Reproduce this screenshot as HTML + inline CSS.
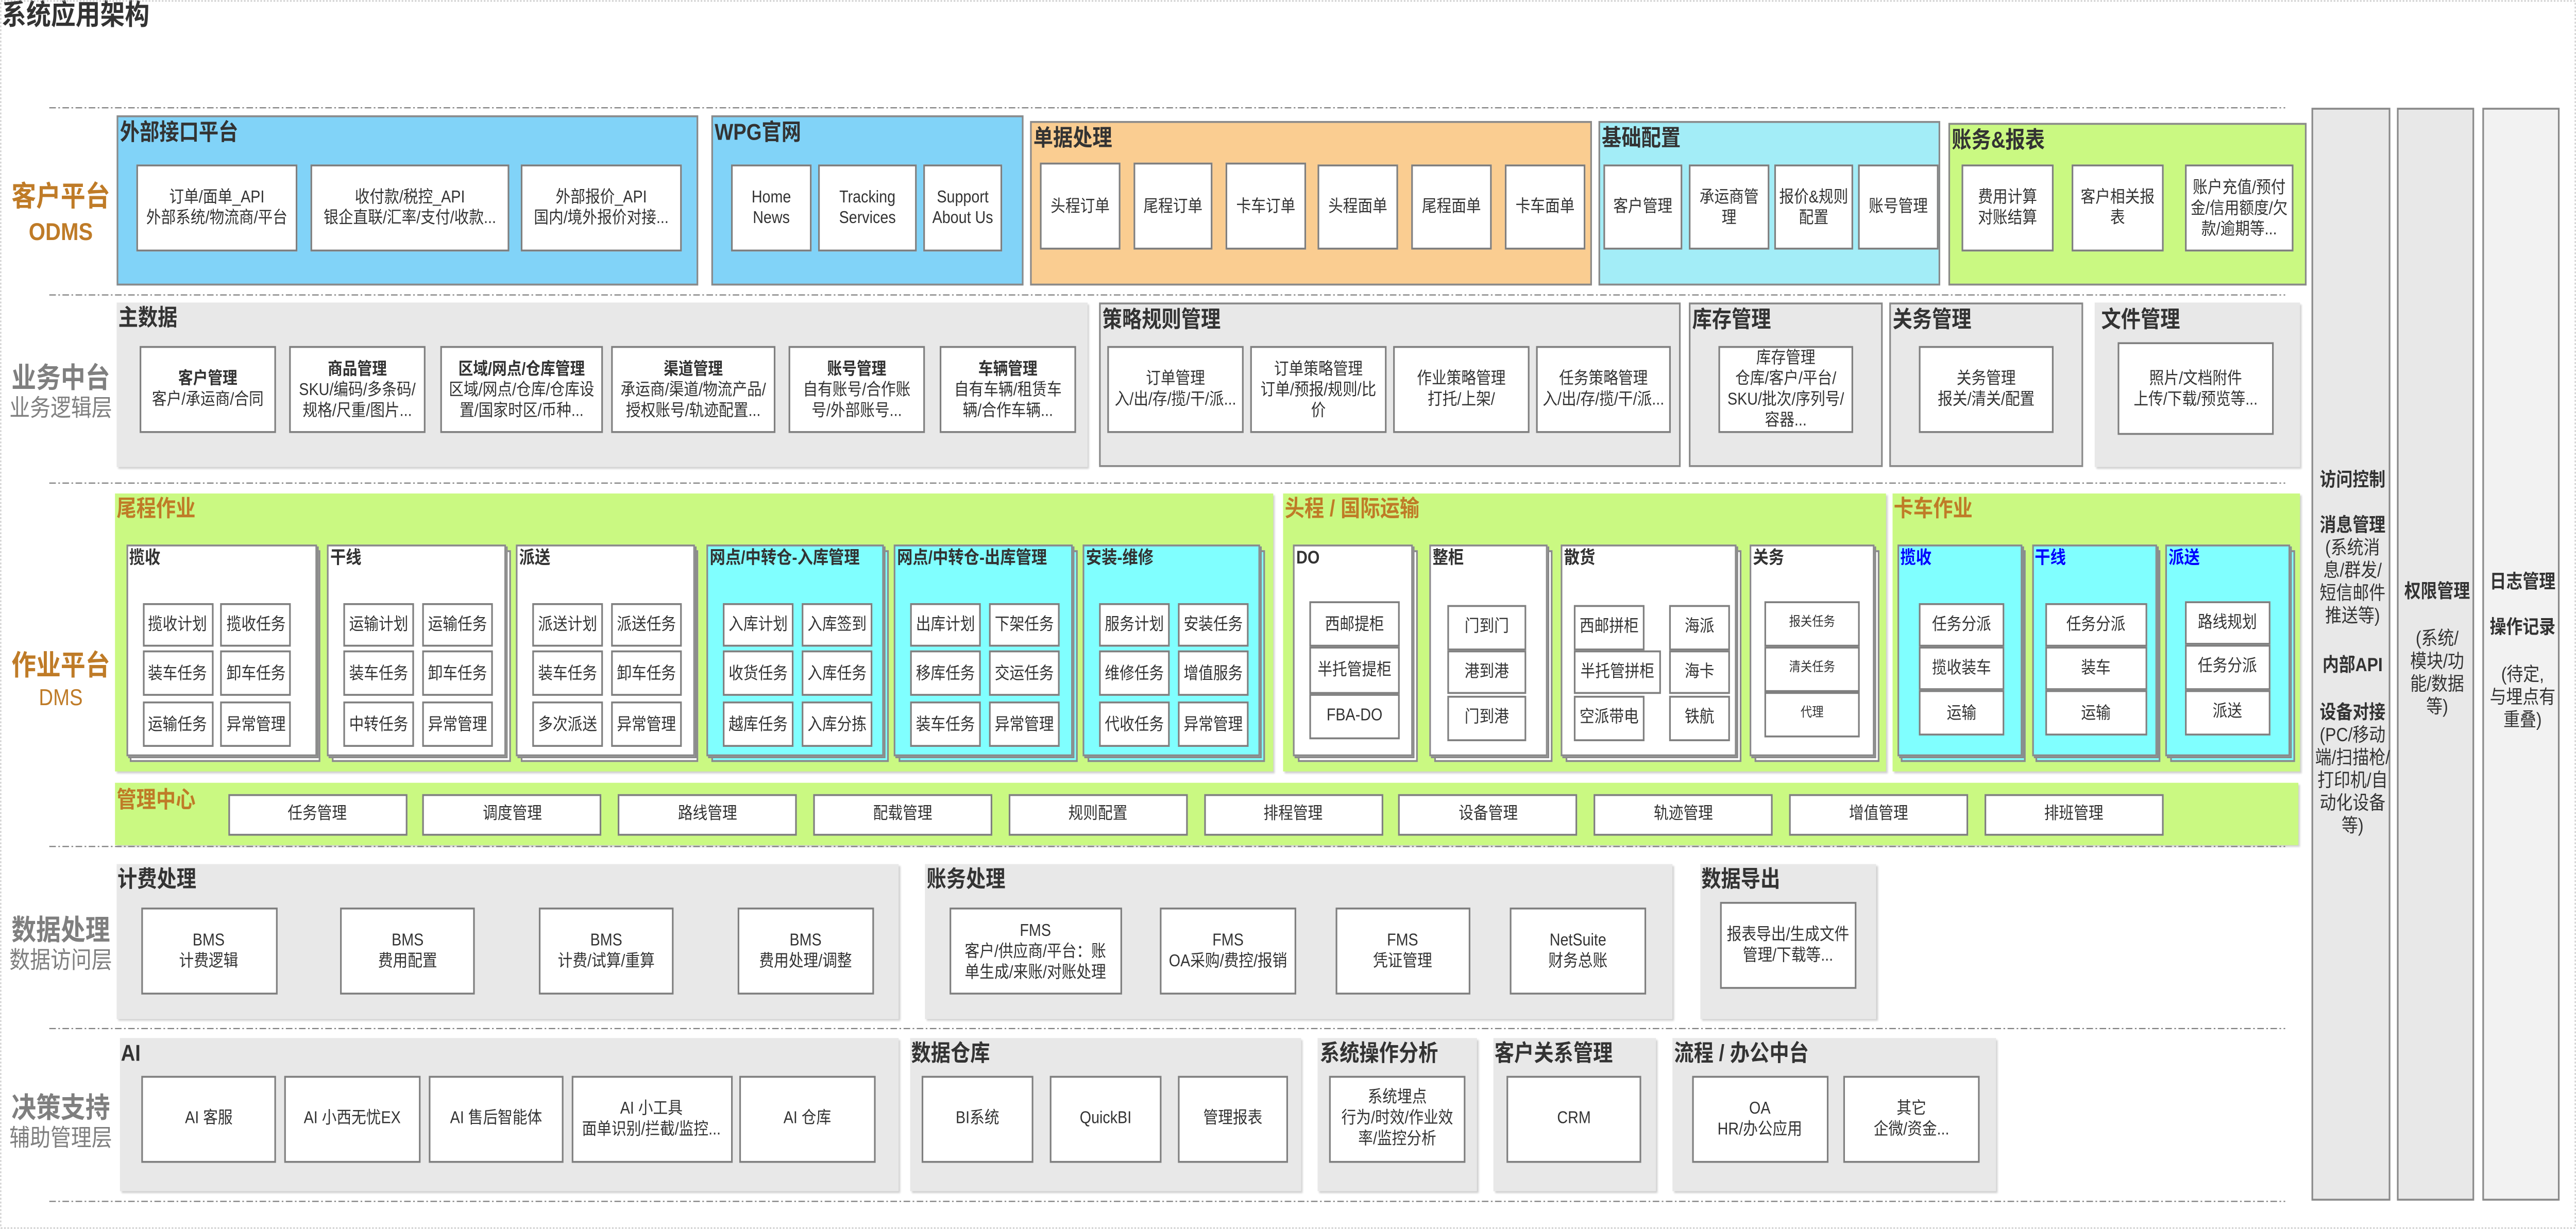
<!DOCTYPE html>
<html><head><meta charset="utf-8">
<style>
html,body{margin:0;padding:0;background:#fff;width:100vw;height:100vh;overflow:hidden}
#root{position:absolute;left:0;top:0;width:100vw;height:100vh;display:block}
#c{position:absolute;left:0;top:0;width:1568px;height:650px;font-family:"Liberation Sans","Noto Sans CJK SC",sans-serif;color:#333;font-size:9px}
.a{position:absolute;box-sizing:border-box}
.p{position:absolute;box-sizing:border-box;border:0.4px solid #8a8a8a}
.g{background:#e8e8e8;border:none;box-shadow:1px 1px 1px #cfcfcf}
.gn{background:#caf982;border:none;box-shadow:1px 1px 1px #d0d0d0}
.x{position:absolute;box-sizing:border-box;background:#fff;border:0.4px solid #7f7f7f;display:flex;align-items:center;justify-content:center;text-align:center;font-size:9px;line-height:11px;color:#333}
.t{position:absolute;font-weight:bold;font-size:12px;left:1px;top:1px;white-space:nowrap;color:#333;line-height:15px}
.to{color:#bf7b27}
.h{position:absolute;font-weight:bold;font-size:9.5px;left:1px;top:1px;white-space:nowrap;color:#333;line-height:12px}
.hb{color:#0000ff}
.s{position:absolute;box-sizing:border-box;border:0.4px solid #8a8a8a}
.w{background:#fff}.cy{background:#80ffff}
.lab{position:absolute;left:2px;width:70px;text-align:center;white-space:nowrap}
.col{position:absolute;box-sizing:border-box;border:0.4px solid #8a8a8a;text-align:center;font-size:10px;line-height:12px;color:#333}
.sm{font-size:7px;line-height:8px}
</style></head><body>
<svg id="root" viewBox="0 0 1568 650" preserveAspectRatio="none" xmlns="http://www.w3.org/2000/svg">
<foreignObject x="0" y="0" width="1568" height="650">
<div xmlns="http://www.w3.org/1999/xhtml" id="c">

<div class="a" style="left:1px;top:0px;font-size:15px;line-height:18px;font-weight:bold;color:#333">系统应用架构</div>

<div class="lab" style="top:96px;font-size:15px;line-height:17px;font-weight:bold;color:#bf7b27">客户平台</div>
<div class="lab" style="top:115px;font-size:13px;line-height:15px;font-weight:bold;color:#bf7b27">ODMS</div>
<div class="lab" style="top:192px;font-size:15px;line-height:17px;font-weight:bold;color:#7f7f7f">业务中台</div>
<div class="lab" style="top:209px;font-size:12.5px;line-height:15px;color:#7f7f7f">业务逻辑层</div>
<div class="lab" style="top:344px;font-size:15px;line-height:17px;font-weight:bold;color:#bf7b27">作业平台</div>
<div class="lab" style="top:362px;font-size:12px;line-height:14px;color:#bf7b27">DMS</div>
<div class="lab" style="top:484px;font-size:15px;line-height:17px;font-weight:bold;color:#7f7f7f">数据处理</div>
<div class="lab" style="top:501px;font-size:12.5px;line-height:15px;color:#7f7f7f">数据访问层</div>
<div class="lab" style="top:578px;font-size:15px;line-height:17px;font-weight:bold;color:#7f7f7f">决策支持</div>
<div class="lab" style="top:595px;font-size:12.5px;line-height:15px;color:#7f7f7f">辅助管理层</div>

<!-- Row 1 -->
<div class="p" style="left:71px;top:61px;width:354px;height:90px;background:#81d3f8"><div class="t">外部接口平台</div></div>
<div class="x" style="left:83px;top:87px;width:98px;height:46px">订单/面单_API<br/>外部系统/物流商/平台</div>
<div class="x" style="left:189px;top:87px;width:121px;height:46px">收付款/税控_API<br/>银企直联/汇率/支付/收款...</div>
<div class="x" style="left:317px;top:87px;width:98px;height:46px">外部报价_API<br/>国内/境外报价对接...</div>

<div class="p" style="left:433px;top:61px;width:190px;height:90px;background:#81d3f8"><div class="t">WPG官网</div></div>
<div class="x" style="left:445px;top:87px;width:49px;height:46px">Home<br/>News</div>
<div class="x" style="left:498px;top:87px;width:60px;height:46px">Tracking<br/>Services</div>
<div class="x" style="left:562px;top:87px;width:48px;height:46px">Support<br/>About Us</div>

<div class="p" style="left:627px;top:64px;width:342px;height:87px;background:#facd91"><div class="t">单据处理</div></div>
<div class="x" style="left:633px;top:86px;width:49px;height:46px">头程订单</div>
<div class="x" style="left:690px;top:86px;width:48px;height:46px">尾程订单</div>
<div class="x" style="left:746px;top:86px;width:49px;height:46px">卡车订单</div>
<div class="x" style="left:802px;top:87px;width:49px;height:45px">头程面单</div>
<div class="x" style="left:859px;top:87px;width:49px;height:45px">尾程面单</div>
<div class="x" style="left:916px;top:87px;width:49px;height:45px">卡车面单</div>

<div class="p" style="left:973px;top:64px;width:208px;height:87px;background:#a3edf7"><div class="t">基础配置</div></div>
<div class="x" style="left:976px;top:87px;width:48px;height:45px">客户管理</div>
<div class="x" style="left:1028px;top:87px;width:49px;height:45px">承运商管<br/>理</div>
<div class="x" style="left:1080px;top:87px;width:48px;height:45px">报价&amp;规则<br/>配置</div>
<div class="x" style="left:1131px;top:87px;width:49px;height:45px">账号管理</div>

<div class="p" style="left:1186px;top:65px;width:218px;height:86px;background:#caf982"><div class="t">账务&amp;报表</div></div>
<div class="x" style="left:1194px;top:87px;width:56px;height:46px">费用计算<br/>对账结算</div>
<div class="x" style="left:1261px;top:87px;width:56px;height:46px">客户相关报<br/>表</div>
<div class="x" style="left:1330px;top:87px;width:66px;height:46px">账户充值/预付<br/>金/信用额度/欠<br/>款/逾期等...</div>

<!-- Row 2 -->
<div class="p g" style="left:71px;top:160px;width:591px;height:87px"><div class="t">主数据</div></div>
<div class="x" style="left:85px;top:183px;width:83px;height:46px"><div><b>客户管理</b><br/>客户/承运商/合同</div></div>
<div class="x" style="left:176px;top:183px;width:83px;height:46px"><div><b>商品管理</b><br/>SKU/编码/多条码/<br/>规格/尺重/图片...</div></div>
<div class="x" style="left:268px;top:183px;width:99px;height:46px"><div><b>区域/网点/仓库管理</b><br/>区域/网点/仓库/仓库设<br/>置/国家时区/币种...</div></div>
<div class="x" style="left:372px;top:183px;width:100px;height:46px"><div><b>渠道管理</b><br/>承运商/渠道/物流产品/<br/>授权账号/轨迹配置...</div></div>
<div class="x" style="left:480px;top:183px;width:83px;height:46px"><div><b>账号管理</b><br/>自有账号/合作账<br/>号/外部账号...</div></div>
<div class="x" style="left:572px;top:183px;width:83px;height:46px"><div><b>车辆管理</b><br/>自有车辆/租赁车<br/>辆/合作车辆...</div></div>

<div class="p" style="left:669px;top:160px;width:354px;height:87px;background:#e8e8e8"><div class="t">策略规则管理</div></div>
<div class="x" style="left:674px;top:183px;width:83px;height:46px">订单管理<br/>入/出/存/揽/干/派...</div>
<div class="x" style="left:761px;top:183px;width:83px;height:46px">订单策略管理<br/>订单/预报/规则/比<br/>价</div>
<div class="x" style="left:848px;top:183px;width:83px;height:46px">作业策略管理<br/>打托/上架/</div>
<div class="x" style="left:935px;top:183px;width:82px;height:46px">任务策略管理<br/>入/出/存/揽/干/派...</div>

<div class="p" style="left:1028px;top:160px;width:118px;height:87px;background:#e8e8e8"><div class="t">库存管理</div></div>
<div class="x" style="left:1046px;top:183px;width:82px;height:46px">库存管理<br/>仓库/客户/平台/<br/>SKU/批次/序列号/<br/>容器...</div>

<div class="p" style="left:1150px;top:160px;width:118px;height:87px;background:#e8e8e8"><div class="t">关务管理</div></div>
<div class="x" style="left:1168px;top:183px;width:82px;height:46px">关务管理<br/>报关/清关/配置</div>

<div class="p g" style="left:1275px;top:160px;width:125px;height:87px"><div class="t" style="left:4px;top:2px">文件管理</div></div>
<div class="x" style="left:1289px;top:181px;width:95px;height:49px">照片/文档附件<br/>上传/下载/预览等...</div>

<!-- Row 3 -->
<div class="p gn" style="left:70px;top:260.5px;width:705px;height:147.5px"><div class="t to">尾程作业</div></div>
<div class="p gn" style="left:781px;top:260.5px;width:367px;height:147.5px"><div class="t to">头程 / 国际运输</div></div>
<div class="p gn" style="left:1151.7px;top:260.5px;width:248px;height:147.5px"><div class="t to">卡车作业</div></div>

<div class="s w" style="left:79px;top:290.5px;width:116.4px;height:112px"></div>
<div class="s w" style="left:77.8px;top:289.2px;width:116.4px;height:112px"></div>
<div class="s w" style="left:76.6px;top:288px;width:116.4px;height:112px"><div class="h">揽收</div></div>
<div class="s w" style="left:201.5px;top:290.5px;width:109px;height:112px"></div>
<div class="s w" style="left:200.2px;top:289.2px;width:109px;height:112px"></div>
<div class="s w" style="left:199px;top:288px;width:109px;height:112px"><div class="h">干线</div></div>
<div class="s w" style="left:316.5px;top:290.5px;width:108.6px;height:112px"></div>
<div class="s w" style="left:315.2px;top:289.2px;width:108.6px;height:112px"></div>
<div class="s w" style="left:314px;top:288px;width:108.6px;height:112px"><div class="h">派送</div></div>
<div class="s cy" style="left:432.5px;top:290.5px;width:108px;height:112px"></div>
<div class="s cy" style="left:431.2px;top:289.2px;width:108px;height:112px"></div>
<div class="s cy" style="left:430px;top:288px;width:108px;height:112px"><div class="h">网点/中转仓-入库管理</div></div>
<div class="s cy" style="left:546.5px;top:290.5px;width:109px;height:112px"></div>
<div class="s cy" style="left:545.2px;top:289.2px;width:109px;height:112px"></div>
<div class="s cy" style="left:544px;top:288px;width:109px;height:112px"><div class="h">网点/中转仓-出库管理</div></div>
<div class="s cy" style="left:661.5px;top:290.5px;width:108px;height:112px"></div>
<div class="s cy" style="left:660.2px;top:289.2px;width:108px;height:112px"></div>
<div class="s cy" style="left:659px;top:288px;width:108px;height:112px"><div class="h">安装-维修</div></div>

<div class="x" style="left:86.5px;top:318.5px;width:43px;height:23px">揽收计划</div>
<div class="x" style="left:134.4px;top:318.5px;width:43px;height:23px">揽收任务</div>
<div class="x" style="left:86.5px;top:344px;width:43px;height:24px">装车任务</div>
<div class="x" style="left:134.4px;top:344px;width:43px;height:24px">卸车任务</div>
<div class="x" style="left:86.5px;top:371px;width:43px;height:24px">运输任务</div>
<div class="x" style="left:134.4px;top:371px;width:43px;height:24px">异常管理</div>

<div class="x" style="left:209px;top:318.5px;width:43px;height:23px">运输计划</div>
<div class="x" style="left:257px;top:318.5px;width:43px;height:23px">运输任务</div>
<div class="x" style="left:209px;top:344px;width:43px;height:24px">装车任务</div>
<div class="x" style="left:257px;top:344px;width:43px;height:24px">卸车任务</div>
<div class="x" style="left:209px;top:371px;width:43px;height:24px">中转任务</div>
<div class="x" style="left:257px;top:371px;width:43px;height:24px">异常管理</div>

<div class="x" style="left:324px;top:318.5px;width:43px;height:23px">派送计划</div>
<div class="x" style="left:372px;top:318.5px;width:43px;height:23px">派送任务</div>
<div class="x" style="left:324px;top:344px;width:43px;height:24px">装车任务</div>
<div class="x" style="left:372px;top:344px;width:43px;height:24px">卸车任务</div>
<div class="x" style="left:324px;top:371px;width:43px;height:24px">多次派送</div>
<div class="x" style="left:372px;top:371px;width:43px;height:24px">异常管理</div>

<div class="x" style="left:440px;top:318.5px;width:43px;height:23px">入库计划</div>
<div class="x" style="left:488px;top:318.5px;width:43px;height:23px">入库签到</div>
<div class="x" style="left:440px;top:344px;width:43px;height:24px">收货任务</div>
<div class="x" style="left:488px;top:344px;width:43px;height:24px">入库任务</div>
<div class="x" style="left:440px;top:371px;width:43px;height:24px">越库任务</div>
<div class="x" style="left:488px;top:371px;width:43px;height:24px">入库分拣</div>

<div class="x" style="left:554px;top:318.5px;width:43px;height:23px">出库计划</div>
<div class="x" style="left:602px;top:318.5px;width:43px;height:23px">下架任务</div>
<div class="x" style="left:554px;top:344px;width:43px;height:24px">移库任务</div>
<div class="x" style="left:602px;top:344px;width:43px;height:24px">交运任务</div>
<div class="x" style="left:554px;top:371px;width:43px;height:24px">装车任务</div>
<div class="x" style="left:602px;top:371px;width:43px;height:24px">异常管理</div>

<div class="x" style="left:669px;top:318.5px;width:43px;height:23px">服务计划</div>
<div class="x" style="left:717px;top:318.5px;width:43px;height:23px">安装任务</div>
<div class="x" style="left:669px;top:344px;width:43px;height:24px">维修任务</div>
<div class="x" style="left:717px;top:344px;width:43px;height:24px">增值服务</div>
<div class="x" style="left:669px;top:371px;width:43px;height:24px">代收任务</div>
<div class="x" style="left:717px;top:371px;width:43px;height:24px">异常管理</div>

<div class="s w" style="left:789.5px;top:290.5px;width:73px;height:112px"></div>
<div class="s w" style="left:788.2px;top:289.2px;width:73px;height:112px"></div>
<div class="s w" style="left:787px;top:288px;width:73px;height:112px"><div class="h">DO</div></div>
<div class="s w" style="left:872.5px;top:290.5px;width:72px;height:112px"></div>
<div class="s w" style="left:871.2px;top:289.2px;width:72px;height:112px"></div>
<div class="s w" style="left:870px;top:288px;width:72px;height:112px"><div class="h">整柜</div></div>
<div class="s w" style="left:952.5px;top:290.5px;width:107px;height:112px"></div>
<div class="s w" style="left:951.2px;top:289.2px;width:107px;height:112px"></div>
<div class="s w" style="left:950px;top:288px;width:107px;height:112px"><div class="h">散货</div></div>
<div class="s w" style="left:1067.5px;top:290.5px;width:76px;height:112px"></div>
<div class="s w" style="left:1066.2px;top:289.2px;width:76px;height:112px"></div>
<div class="s w" style="left:1065px;top:288px;width:76px;height:112px"><div class="h">关务</div></div>

<div class="x" style="left:797px;top:318px;width:55px;height:24px">西邮提柜</div>
<div class="x" style="left:797px;top:342px;width:55px;height:25px">半托管提柜</div>
<div class="x" style="left:797px;top:367px;width:55px;height:23.5px">FBA-DO</div>

<div class="x" style="left:881px;top:320px;width:48px;height:23.6px">门到门</div>
<div class="x" style="left:881px;top:343.6px;width:48px;height:23.9px">港到港</div>
<div class="x" style="left:881px;top:367.5px;width:48px;height:24px">门到港</div>

<div class="x" style="left:958px;top:320px;width:43px;height:23.6px">西邮拼柜</div>
<div class="x" style="left:958px;top:343.6px;width:53px;height:23.9px">半托管拼柜</div>
<div class="x" style="left:958px;top:367.5px;width:43px;height:24px">空派带电</div>
<div class="x" style="left:1016px;top:320px;width:37px;height:23.6px">海派</div>
<div class="x" style="left:1016px;top:343.6px;width:37px;height:23.9px">海卡</div>
<div class="x" style="left:1016px;top:367.5px;width:37px;height:24px">铁航</div>

<div class="x sm" style="left:1074px;top:318px;width:58px;height:24px">报关任务</div>
<div class="x sm" style="left:1074px;top:342px;width:58px;height:23.5px">清关任务</div>
<div class="x sm" style="left:1074px;top:365.5px;width:58px;height:24px">代理</div>

<div class="s cy" style="left:1157.2px;top:290.5px;width:76px;height:112px"></div>
<div class="s cy" style="left:1156px;top:289.2px;width:76px;height:112px"></div>
<div class="s cy" style="left:1154.7px;top:288px;width:76px;height:112px"><div class="h hb">揽收</div></div>
<div class="s cy" style="left:1239px;top:290.5px;width:76px;height:112px"></div>
<div class="s cy" style="left:1237.7px;top:289.2px;width:76px;height:112px"></div>
<div class="s cy" style="left:1236.5px;top:288px;width:76px;height:112px"><div class="h hb">干线</div></div>
<div class="s cy" style="left:1320.5px;top:290.5px;width:76px;height:112px"></div>
<div class="s cy" style="left:1319.2px;top:289.2px;width:76px;height:112px"></div>
<div class="s cy" style="left:1318px;top:288px;width:76px;height:112px"><div class="h hb">派送</div></div>

<div class="x" style="left:1168px;top:318.5px;width:52px;height:23px">任务分派</div>
<div class="x" style="left:1168px;top:341.5px;width:52px;height:23.5px">揽收装车</div>
<div class="x" style="left:1168px;top:365px;width:52px;height:24px">运输</div>
<div class="x" style="left:1245px;top:318.5px;width:61.5px;height:23px">任务分派</div>
<div class="x" style="left:1245px;top:341.5px;width:61.5px;height:23.5px">装车</div>
<div class="x" style="left:1245px;top:365px;width:61.5px;height:24px">运输</div>
<div class="x" style="left:1329.6px;top:318px;width:52.4px;height:22.7px">路线规划</div>
<div class="x" style="left:1329.6px;top:340.7px;width:52.4px;height:23.9px">任务分派</div>
<div class="x" style="left:1329.6px;top:364.6px;width:52.4px;height:24.2px">派送</div>

<div class="p gn" style="left:70px;top:414px;width:1329px;height:32.5px"><div class="t to" style="top:2px">管理中心</div></div>
<div class="x" style="left:138.6px;top:420px;width:109px;height:21.7px">任务管理</div>
<div class="x" style="left:257.4px;top:420px;width:109px;height:21.7px">调度管理</div>
<div class="x" style="left:376.2px;top:420px;width:109px;height:21.7px">路线管理</div>
<div class="x" style="left:495px;top:420px;width:109px;height:21.7px">配载管理</div>
<div class="x" style="left:613.8px;top:420px;width:109px;height:21.7px">规则配置</div>
<div class="x" style="left:732.6px;top:420px;width:109px;height:21.7px">排程管理</div>
<div class="x" style="left:851.4px;top:420px;width:109px;height:21.7px">设备管理</div>
<div class="x" style="left:970.2px;top:420px;width:109px;height:21.7px">轨迹管理</div>
<div class="x" style="left:1089px;top:420px;width:109px;height:21.7px">增值管理</div>
<div class="x" style="left:1207.8px;top:420px;width:109px;height:21.7px">排班管理</div>

<!-- Row 4 -->
<div class="p g" style="left:70.5px;top:457px;width:476.5px;height:82px"><div class="t">计费处理</div></div>
<div class="x" style="left:85.5px;top:480px;width:83px;height:46px">BMS<br/>计费逻辑</div>
<div class="x" style="left:206.8px;top:480px;width:82.7px;height:46px">BMS<br/>费用配置</div>
<div class="x" style="left:327.7px;top:480px;width:82.7px;height:46px">BMS<br/>计费/试算/重算</div>
<div class="x" style="left:449px;top:480px;width:82.7px;height:46px">BMS<br/>费用处理/调整</div>

<div class="p g" style="left:563px;top:457px;width:455px;height:82px"><div class="t">账务处理</div></div>
<div class="x" style="left:578px;top:480px;width:104.5px;height:46px">FMS<br/>客户/供应商/平台：账<br/>单生成/来账/对账处理</div>
<div class="x" style="left:706px;top:480px;width:83px;height:46px">FMS<br/>OA采购/费控/报销</div>
<div class="x" style="left:812.5px;top:480px;width:82.5px;height:46px">FMS<br/>凭证管理</div>
<div class="x" style="left:919px;top:480px;width:83px;height:46px">NetSuite<br/>财务总账</div>

<div class="p g" style="left:1034.6px;top:457px;width:107.8px;height:82px"><div class="t">数据导出</div></div>
<div class="x" style="left:1046.7px;top:476.7px;width:83.3px;height:46px">报表导出/生成文件<br/>管理/下载等...</div>

<!-- Row 5 -->
<div class="p g" style="left:72.6px;top:548.8px;width:474.4px;height:81.2px"><div class="t">AI</div></div>
<div class="x" style="left:85.8px;top:568.5px;width:82.7px;height:46px">AI 客服</div>
<div class="x" style="left:173px;top:568.5px;width:82.8px;height:46px">AI 小西无忧EX</div>
<div class="x" style="left:260.6px;top:568.5px;width:82.8px;height:46px">AI 售后智能体</div>
<div class="x" style="left:347.5px;top:568.5px;width:98px;height:46px">AI 小工具<br/>面单识别/拦截/监控...</div>
<div class="x" style="left:450px;top:568.5px;width:82.8px;height:46px">AI 仓库</div>

<div class="p g" style="left:553.6px;top:548.8px;width:238.4px;height:81.2px"><div class="t">数据仓库</div></div>
<div class="x" style="left:561px;top:568.5px;width:68px;height:46px">BI系统</div>
<div class="x" style="left:639px;top:568.5px;width:68px;height:46px">QuickBI</div>
<div class="x" style="left:716.6px;top:568.5px;width:67.7px;height:46px">管理报表</div>

<div class="p g" style="left:802.4px;top:548.8px;width:96.6px;height:81.2px"><div class="t">系统操作分析</div></div>
<div class="x" style="left:809px;top:568.5px;width:83px;height:46px">系统埋点<br/>行为/时效/作业效<br/>率/监控分析</div>

<div class="p g" style="left:908.7px;top:548.8px;width:99.3px;height:81.2px"><div class="t">客户关系管理</div></div>
<div class="x" style="left:916.7px;top:568.5px;width:82.8px;height:46px">CRM</div>

<div class="p g" style="left:1018px;top:548.8px;width:197px;height:81.2px"><div class="t">流程 / 办公中台</div></div>
<div class="x" style="left:1029.7px;top:568.5px;width:83px;height:46px">OA<br/>HR/办公应用</div>
<div class="x" style="left:1122px;top:568.5px;width:83px;height:46px">其它<br/>企微/资金...</div>

<!-- right columns -->
<div class="col" style="left:1407px;top:57px;width:48px;height:578px;background:#e8e8e8">
 <div class="a" style="left:0;top:191px;width:48px"><b>访问控制</b></div>
 <div class="a" style="left:0;top:215px;width:48px"><b>消息管理</b><br/>(系统消<br/>息/群发/<br/>短信邮件<br/>推送等)</div>
 <div class="a" style="left:0;top:289px;width:48px"><b>内部API</b></div>
 <div class="a" style="left:0;top:314px;width:48px"><b>设备对接</b><br/>(PC/移动<br/>端/扫描枪/<br/>打印机/自<br/>动化设备<br/>等)</div>
</div>
<div class="col" style="left:1459px;top:57px;width:47px;height:578px;background:#e8e8e8">
 <div class="a" style="left:0;top:250px;width:47px"><b>权限管理</b></div>
 <div class="a" style="left:0;top:275px;width:47px">(系统/<br/>模块/功<br/>能/数据<br/>等)</div>
</div>
<div class="col" style="left:1511px;top:57px;width:47px;height:578px;background:#f2f2f2">
 <div class="a" style="left:0;top:245px;width:47px"><b>日志管理</b></div>
 <div class="a" style="left:0;top:269px;width:47px"><b>操作记录</b></div>
 <div class="a" style="left:0;top:294px;width:47px">(待定,<br/>与埋点有<br/>重叠)</div>
</div>

</div>
</foreignObject>
<rect x="0.5" y="0.5" width="1567" height="649" fill="none" stroke="#aaa" stroke-width="0.4" stroke-dasharray="1 1"/>
<g stroke="#7f7f7f" stroke-width="0.6" stroke-dasharray="4 1.5 1 1.5">
<line x1="30" y1="57" x2="1391" y2="57"/>
<line x1="30" y1="156" x2="1391" y2="156"/>
<line x1="30" y1="255.5" x2="1391" y2="255.5"/>
<line x1="30" y1="447.7" x2="1391" y2="447.7"/>
<line x1="30" y1="544" x2="1391" y2="544"/>
<line x1="30" y1="635.4" x2="1391" y2="635.4"/>
</g>
</svg>
</body></html>
